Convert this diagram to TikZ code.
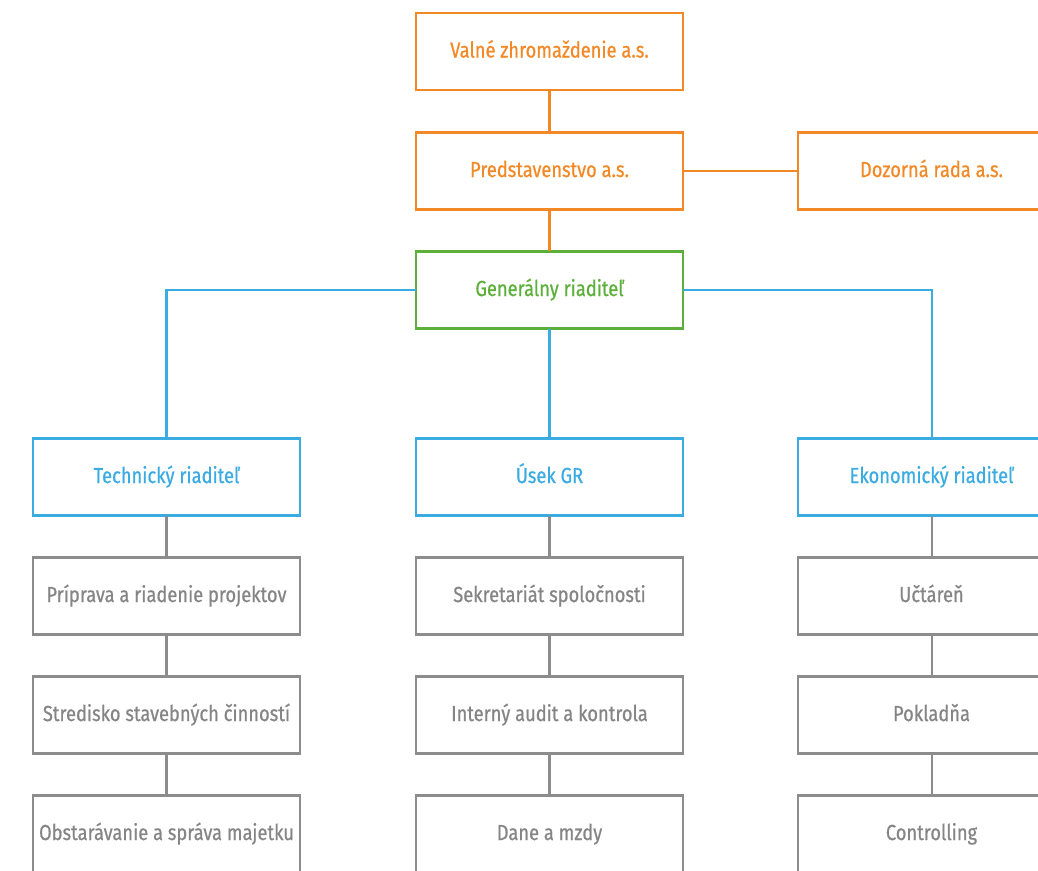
\documentclass[tikz,border=0pt]{standalone}
\usepackage{fontspec}
\setmainfont{Fira Sans}[FakeStretch=0.84,FakeBold=0.6]
\definecolor{orgorange}{RGB}{243,137,38}
\definecolor{orggreen}{RGB}{92,176,58}
\definecolor{orgblue}{RGB}{58,172,226}
\definecolor{orggray}{RGB}{140,140,140}
\tikzset{
  box/.style={draw,fill=white,line width=1.45pt,minimum width=5.34cm,minimum height=1.54cm,inner sep=0pt,text height=1.75ex,text depth=.45ex,font=\fontsize{12.4}{14}\selectfont},
  orgbox/.style={box,draw=orgorange,text=orgorange},
  genbox/.style={box,draw=orggreen,text=orggreen},
  dirbox/.style={box,draw=orgblue,text=orgblue},
  unitbox/.style={box,draw=orggray,text=orggray!95!black},
  link/.style={line width=1.15pt}
}
\begin{document}
\begin{tikzpicture}[line cap=rect,line join=miter,x=.02cm,y=-.02cm]
\useasboundingbox (0,0) rectangle (1038,870);
\clip (0,0) rectangle (1038,870);
% vedenie spolocnosti
\node[orgbox] (valne) at (549.5,51.5) {Valné zhromaždenie a.s.};
\node[orgbox] (predst) at (549.5,171) {Predstavenstvo a.s.};
\node[orgbox] (dozor) at (931.5,171) {Dozorná rada a.s.};
\node[genbox] (genr) at (549.5,290) {Generálny riaditeľ};
% riaditelia
\node[dirbox] (tech) at (166.5,477) {Technický riaditeľ};
\node[dirbox] (usek) at (549.5,477) {Úsek GR};
\node[dirbox] (ekon) at (931.5,477) {Ekonomický riaditeľ};
% utvary
\node[unitbox] (tech1) at (166.5,596) {Príprava a riadenie projektov};
\node[unitbox] (tech2) at (166.5,715) {Stredisko stavebných činností};
\node[unitbox] (tech3) at (166.5,834) {Obstarávanie a správa majetku};
\node[unitbox] (usek1) at (549.5,596) {Sekretariát spoločnosti};
\node[unitbox] (usek2) at (549.5,715) {Interný audit a kontrola};
\node[unitbox] (usek3) at (549.5,834) {Dane a mzdy};
\node[unitbox] (ekon1) at (931.5,596) {Učtáreň};
\node[unitbox] (ekon2) at (931.5,715) {Pokladňa};
\node[unitbox] (ekon3) at (931.5,834) {Controlling};
% spojnice
\draw[link,orgorange] (valne) -- (predst);
\draw[link,orgorange] (predst) -- (dozor);
\draw[link,orgorange] (predst) -- (genr);
\draw[link,orgblue] (genr) -- (usek);
\draw[link,orgblue] (genr.west) -| (tech);
\draw[link,orgblue] (genr.east) -| (ekon);
\foreach \c in {tech,usek,ekon}{
  \draw[link,orggray] (\c) -- (\c1);
  \draw[link,orggray] (\c1) -- (\c2);
  \draw[link,orggray] (\c2) -- (\c3);
}
\end{tikzpicture}
\end{document}
